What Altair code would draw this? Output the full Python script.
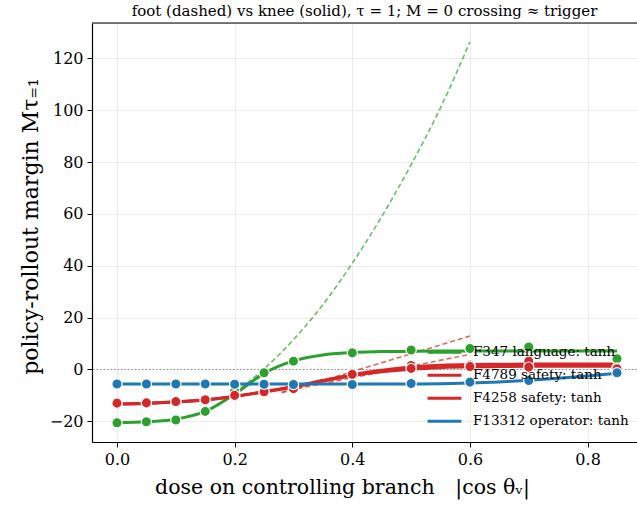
import altair as alt
import pandas as pd

# ---------------- data ----------------
series_names = ["F347 language: tanh", "F4789 safety: tanh",
                "F4258 safety: tanh", "F13312 operator: tanh"]
series_colors = ["#2ca02c", "#d62728", "#d62728", "#1f77b4"]

# measured points (markers)
x_pts = [0.0, 0.05, 0.1, 0.15, 0.2, 0.25, 0.3, 0.4, 0.5, 0.6, 0.7, 0.85]
m_f347 = [-20.6, -20.2, -19.5, -16.2, -8.3, -1.3, 3.2, 6.4, 7.5, 8.1, 8.7, 4.1]
m_f4789 = [-13.3, -13.2, -12.6, -11.9, -10.3, -8.8, -7.1, -1.5, 1.5, 1.7, 3.2, 0.6]
m_f4258 = [-13.0, -12.9, -12.4, -11.7, -10.0, -8.6, -7.4, -1.9, 0.4, 1.1, 0.9, 0.3]
m_f13312 = [-5.6, -5.6, -5.6, -5.6, -5.7, -5.7, -5.8, -5.8, -5.4, -4.9, -4.3, -1.3]

# knee (solid) fit curves
x_fit = [0.0, 0.05, 0.1, 0.15, 0.2, 0.25, 0.3, 0.35, 0.4, 0.45, 0.5,
         0.55, 0.6, 0.65, 0.7, 0.75, 0.8, 0.85]
knee_f347 = [-20.6, -20.2, -19.2, -16.2, -9.5, -1.5, 3.3, 5.6, 6.5, 6.9, 7.0,
             7.1, 7.1, 7.1, 7.1, 7.1, 7.1, 7.1]
knee_f4789 = [-13.2, -13.0, -12.5, -11.7, -10.3, -8.6, -6.6, -4.2, -2.0, -0.3, 0.9,
              1.6, 1.9, 2.0, 2.1, 2.1, 2.1, 2.1]
knee_f4258 = [-13.3, -13.1, -12.6, -11.8, -10.4, -8.7, -6.8, -4.5, -2.4, -0.9, 0.1,
              0.7, 1.0, 1.1, 1.2, 1.2, 1.2, 1.2]
knee_f13312 = [-5.6, -5.6, -5.6, -5.6, -5.6, -5.6, -5.6, -5.6, -5.6, -5.6, -5.6,
               -5.5, -5.2, -4.8, -4.2, -3.4, -2.5, -1.5]

# foot (dashed) fit curves
foot_x_f347 = [0.2, 0.25, 0.3, 0.35, 0.4, 0.45, 0.5, 0.55, 0.6]
foot_f347 = [-9.0, 0.2, 11.5, 25.0, 41.0, 59.0, 79.0, 101.0, 126.4]
foot_x_red = [0.28, 0.6]
foot_f4789 = [-9.1, 12.9]
foot_f4258 = [-8.6, 5.8]

# ---------------- tables ----------------
marker_rows, knee_rows, foot_rows = [], [], []
for name, vals in zip(series_names, [m_f347, m_f4789, m_f4258, m_f13312]):
    for x, y in zip(x_pts, vals):
        marker_rows.append({"series": name, "x": x, "y": y})
for name, vals in zip(series_names, [knee_f347, knee_f4789, knee_f4258, knee_f13312]):
    for x, y in zip(x_fit, vals):
        knee_rows.append({"series": name, "x": x, "y": y})
for name, xs, vals in [(series_names[0], foot_x_f347, foot_f347),
                       (series_names[1], foot_x_red, foot_f4789),
                       (series_names[2], foot_x_red, foot_f4258)]:
    for x, y in zip(xs, vals):
        foot_rows.append({"series": name, "x": x, "y": y})

markers = pd.DataFrame(marker_rows)
knees = pd.DataFrame(knee_rows)
feet = pd.DataFrame(foot_rows)
zero = pd.DataFrame({"y": [0.0]})

FONT = "DejaVu Serif"
W, H = 545, 419

xscale = alt.Scale(domain=[-0.0425, 0.884], nice=False, zero=False)
yscale = alt.Scale(domain=[-28.0, 133.7], nice=False, zero=False)
cscale = alt.Scale(domain=series_names, range=series_colors)

legend = alt.Legend(title=None, orient="none", legendX=334, legendY=318,
                    symbolType="stroke", symbolSize=1150, symbolStrokeWidth=3,
                    symbolDash=[1, 0], symbolOpacity=1, clipHeight=22.4,
                    labelFont=FONT, labelFontSize=13.5, labelColor="black",
                    labelOffset=10, rowPadding=0, padding=0, values=series_names)

xaxis = alt.Axis(values=[0.0, 0.2, 0.4, 0.6, 0.8], format=".1f",
                 title="dose on controlling branch\u2003|cos θᵥ|",
                 titleFont=FONT, titleFontSize=20.5, titleFontWeight="normal",
                 titleColor="black", titleX=250, titleY=51,
                 titleBaseline="alphabetic", titleAlign="center",
                 labelFont=FONT, labelFontSize=16, labelColor="black",
                 labelPadding=4, tickColor="black", tickSize=5,
                 domainColor="black", domainWidth=1.2,
                 gridColor="#ebebeb", gridWidth=1)
yaxis = alt.Axis(values=[-20, 0, 20, 40, 60, 80, 100, 120],
                 title="policy-rollout margin Mτ₌₁",
                 titleFont=FONT, titleFontSize=22, titleFontWeight="normal",
                 titleColor="black", titleX=-62, titleY=203,
                 titleAngle=270, titleBaseline="middle", titleAlign="center",
                 labelFont=FONT, labelFontSize=16, labelColor="black",
                 labelPadding=4, tickColor="black", tickSize=5,
                 domainColor="black", domainWidth=1.2,
                 gridColor="#ebebeb", gridWidth=1)

base_x = alt.X("x:Q", scale=xscale, axis=xaxis)
base_y = alt.Y("y:Q", scale=yscale, axis=yaxis)

zero_line = alt.Chart(zero).mark_rule(color="#8c8c8c", strokeWidth=1,
                                      strokeDash=[1.5, 2]).encode(
    y=alt.Y("y:Q", scale=yscale))

foot_layer = alt.Chart(feet).mark_line(strokeWidth=1.6, strokeDash=[5, 3],
                                       opacity=0.7, interpolate="monotone").encode(
    x=alt.X("x:Q", scale=xscale), y=alt.Y("y:Q", scale=yscale),
    color=alt.Color("series:N", scale=cscale, legend=legend))

knee_layer = alt.Chart(knees).mark_line(strokeWidth=3, interpolate="monotone").encode(
    x=base_x, y=base_y,
    color=alt.Color("series:N", scale=cscale, legend=legend))

marker_layer = alt.Chart(markers).mark_point(filled=True, shape="circle", size=105,
                                             stroke="white", strokeWidth=1.2,
                                             opacity=1).encode(
    x=alt.X("x:Q", scale=xscale), y=alt.Y("y:Q", scale=yscale),
    color=alt.Color("series:N", scale=cscale, legend=legend))

top_border = alt.Chart(zero).mark_rule(color="black", strokeWidth=1.2).encode(
    x=alt.value(0), x2=alt.value(W), y=alt.value(0))

chart = alt.layer(zero_line, foot_layer, knee_layer, marker_layer, top_border).properties(
    width=W, height=H,
    title=alt.TitleParams("foot (dashed) vs knee (solid), τ = 1; M = 0 crossing ≈ trigger",
                          font=FONT, fontSize=15, fontWeight="normal",
                          color="black", anchor="middle", offset=3),
    autosize=alt.AutoSizeParams(type="none"),
    padding={"left": 92, "top": 23, "right": 0, "bottom": 66},
).configure_view(stroke=None).configure(background="white")

chart.save("out.html", embed_options={"renderer": "svg", "actions": False})
